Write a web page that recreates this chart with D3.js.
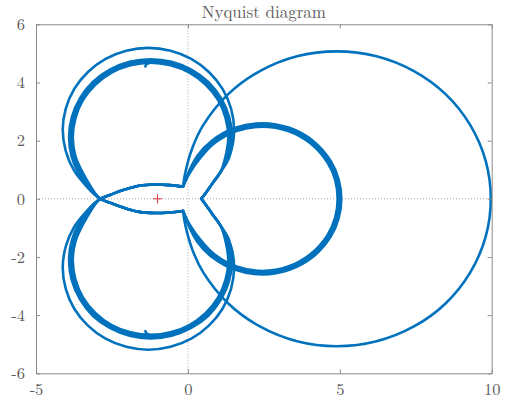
<!DOCTYPE html>
<html>
<head>
<meta charset="utf-8">
<script src="https://cdn.jsdelivr.net/npm/d3@7/dist/d3.min.js"></script>
<style>
  body { margin: 0; background: #fff; }
  svg text { font-family: "Latin Modern Roman", "Liberation Serif", "Times New Roman", serif; fill: #5a5a5a; }
</style>
</head>
<body>
<svg id="chart" width="512" height="403"></svg>
<script>
const svg = d3.select("#chart");

// axis ticks
const xTicks = [-5, 0, 5, 10];
const yTicks = [-6, -4, -2, 0, 2, 4, 6];
const criticalPoint = [-1, 0];

// upper half of the large circle (cusp -> real axis); lower half is its mirror
const bigArc = [[-0.16, 0.42], [-0.09, 0.88], [0.14, 1.73], [0.51, 2.54], [1.32, 3.59], [2.37, 4.39],
  [3.59, 4.90], [4.9, 5.07], [6.21, 4.90], [7.44, 4.39], [8.49, 3.59], [9.29, 2.54], [9.80, 1.31], [9.97, 0]];

// medium circle, three nearly overlapping passes
const medArc1 = [[-0.16, 0.42], [0.01, 0.89], [0.32, 1.49], [0.78, 1.99], [1.56, 2.44], [2.45, 2.6],
  [3.34, 2.44], [4.12, 1.99], [4.70, 1.30], [4.96, 0.67], [5.05, 0]];
const medArc2 = [[-0.16, 0.42], [0.03, 0.88], [0.37, 1.46], [0.82, 1.95], [1.58, 2.39], [2.45, 2.54],
  [3.32, 2.39], [4.08, 1.95], [4.65, 1.27], [4.90, 0.66], [4.99, 0]];
const medArc3 = [[-0.16, 0.42], [0.05, 0.87], [0.42, 1.42], [0.86, 1.90], [1.60, 2.33], [2.45, 2.48],
  [3.30, 2.33], [4.04, 1.90], [4.60, 1.24], [4.85, 0.64], [4.93, 0]];

// upper lobe: shared start (lower cusp -> crossing) and shared end (-> tip on real axis)
const lobeStart = [[-0.16, -0.42], [-0.6, -0.47], [-1.1, -0.49], [-1.6, -0.45], [-2.1, -0.31], [-2.52, -0.15], [-2.91, 0.02]];
const lobeEnd = [[1.08, 0.93], [0.8, 0.52], [0.6, 0.22], [0.44, 0]];

// outer thin ring and the three passes of the thick band
const lobeOuter = [[-3.29, 0.38], [-3.74, 0.96], [-4.02, 1.64], [-4.12, 2.37], [-4.02, 3.10], [-3.74, 3.78],
  [-3.29, 4.36], [-2.71, 4.81], [-2.03, 5.09], [-1.3, 5.19], [-0.57, 5.09], [0.11, 4.81], [0.69, 4.36],
  [1.14, 3.78], [1.42, 3.10], [1.52, 2.37], [1.42, 1.64]];
const lobeBand1 = [[-3.43, 0.58], [-3.82, 1.43], [-3.91, 2.12], [-3.82, 2.81], [-3.55, 3.46], [-3.13, 4.02],
  [-2.57, 4.44], [-1.92, 4.71], [-1.23, 4.80], [-0.54, 4.71], [0.11, 4.44], [0.67, 4.02], [1.09, 3.46],
  [1.36, 2.81], [1.45, 2.12], [1.36, 1.43]];
const lobeBand2 = [[-3.38, 0.62], [-3.76, 1.44], [-3.85, 2.12], [-3.76, 2.80], [-3.50, 3.43], [-3.08, 3.97],
  [-2.54, 4.39], [-1.91, 4.65], [-1.23, 4.74], [-0.55, 4.65], [0.08, 4.39], [0.62, 3.97], [1.04, 3.43],
  [1.30, 2.80], [1.39, 2.12], [1.30, 1.44]];
const lobeBand3 = [[-3.33, 0.65], [-3.70, 1.46], [-3.79, 2.12], [-3.70, 2.78], [-3.45, 3.40], [-3.04, 3.93],
  [-2.51, 4.34], [-1.89, 4.59], [-1.23, 4.68], [-0.57, 4.59], [0.05, 4.34], [0.58, 3.93], [0.99, 3.40],
  [1.24, 2.78], [1.33, 2.12], [1.24, 1.46]];

// little end stub inside the band
const tailStub = [[-1.22, 4.69], [-1.36, 4.63], [-1.40, 4.55]];

const plot = { left: 36, right: 491.7, top: 24.3, bottom: 373.3 };

const x = d3.scaleLinear().domain([-5, 10]).range([plot.left, plot.right]);
const y = d3.scaleLinear().domain([-6, 6]).range([plot.bottom, plot.top]);

const line = d3.line()
  .x(d => x(d[0]))
  .y(d => y(d[1]))
  .curve(d3.curveCatmullRom.alpha(0.5));

const mirror = pts => pts.map(p => [p[0], -p[1]]);
const throughAxis = half => half.concat(mirror(half).reverse().slice(1));

// zero lines (dotted)
svg.append("line")
  .attr("x1", x(0)).attr("x2", x(0))
  .attr("y1", plot.top).attr("y2", plot.bottom)
  .attr("stroke", "#a8a8a8").attr("stroke-width", 1).attr("stroke-dasharray", "1,2");
svg.append("line")
  .attr("x1", plot.left).attr("x2", plot.right)
  .attr("y1", y(0)).attr("y2", y(0))
  .attr("stroke", "#a8a8a8").attr("stroke-width", 1).attr("stroke-dasharray", "1,2");

// curve pieces
const pieces = [
  throughAxis(bigArc),
  throughAxis(medArc1), throughAxis(medArc2), throughAxis(medArc3)
];
[lobeOuter, lobeBand1, lobeBand2, lobeBand3].forEach(mid => {
  const upper = lobeStart.concat(mid, lobeEnd);
  pieces.push(upper);
  pieces.push(mirror(upper));
});
pieces.push(tailStub, mirror(tailStub));

svg.append("g")
  .attr("class", "curve")
  .selectAll("path")
  .data(pieces)
  .enter().append("path")
  .attr("d", line)
  .attr("fill", "none")
  .attr("stroke", "#0072BD")
  .attr("stroke-width", 2.6)
  .attr("stroke-linejoin", "round")
  .attr("stroke-linecap", "round");

// critical point marker
const cp = svg.append("g")
  .attr("transform", `translate(${x(criticalPoint[0])},${y(criticalPoint[1])})`)
  .attr("stroke", "#e0393e").attr("stroke-width", 1);
cp.append("line").attr("x1", -4.5).attr("x2", 4.5);
cp.append("line").attr("y1", -4.5).attr("y2", 4.5);

// axes
const axisColor = "#8a8a8a";
function styleAxis(g, showLabels) {
  g.select(".domain").attr("stroke", axisColor);
  g.selectAll(".tick line").attr("stroke", axisColor);
  g.selectAll(".tick text")
    .style("font-size", "16.5px")
    .attr("fill", "#5a5a5a")
    .text(showLabels ? (d => d) : "");
}

svg.append("g")
  .attr("transform", `translate(0,${plot.bottom})`)
  .call(d3.axisBottom(x).tickValues(xTicks).tickSizeInner(-4).tickSizeOuter(0).tickPadding(10))
  .call(g => styleAxis(g, true));
svg.append("g")
  .attr("transform", `translate(0,${plot.top})`)
  .call(d3.axisTop(x).tickValues(xTicks).tickSizeInner(-4).tickSizeOuter(0))
  .call(g => styleAxis(g, false));
svg.append("g")
  .attr("transform", `translate(${plot.left},0)`)
  .call(d3.axisLeft(y).tickValues(yTicks).tickSizeInner(-4).tickSizeOuter(0).tickPadding(11))
  .call(g => styleAxis(g, true));
svg.append("g")
  .attr("transform", `translate(${plot.right},0)`)
  .call(d3.axisRight(y).tickValues(yTicks).tickSizeInner(-4).tickSizeOuter(0))
  .call(g => styleAxis(g, false));

svg.selectAll(".tick text").attr("font-family", null);

// title
svg.append("text")
  .attr("x", (plot.left + plot.right) / 2)
  .attr("y", 18)
  .attr("text-anchor", "middle")
  .style("font-size", "17px")
  .attr("fill", "#5a5a5a")
  .text("Nyquist diagram");
</script>
</body>
</html>
